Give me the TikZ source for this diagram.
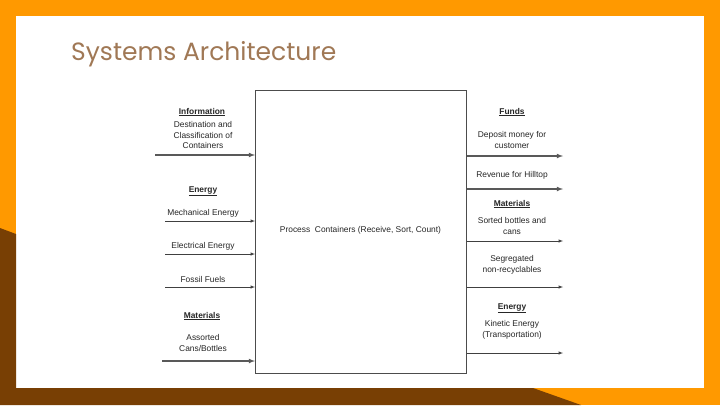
\documentclass[tikz,border=0pt]{standalone}
\usepackage{fontspec}
\setmainfont{Liberation Sans}
\newfontfamily\titlefont{Poppins}
\definecolor{bgorange}{RGB}{255,153,0}
\definecolor{bgbrown}{RGB}{120,63,4}
\definecolor{titlec}{RGB}{160,120,85}
\begin{document}
\begin{tikzpicture}[x=1pt,y=-1pt,
  lbl/.style={font=\fontsize{8.4}{10.5}\selectfont,align=center,text=black!85,inner sep=1pt},
  hd/.style={lbl,font=\fontsize{8.4}{10.5}\selectfont\bfseries},
  arr/.style={-latex,black!75,line width=0.5pt},
  arrb/.style={-latex,black!65,line width=1.1pt}]
\useasboundingbox (0,0) rectangle (720,405);
\fill[bgorange] (0,0) rectangle (720,405);
\fill[white] (16,16) rectangle (704,388);
\fill[bgbrown] (0,228) -- (16,234) -- (16,388) -- (533,388) -- (581,405) -- (0,405) -- cycle;
\node[anchor=west,inner sep=0pt,font=\titlefont\fontsize{25}{28}\selectfont,text=titlec] (title) at (71,54) {Systems Architecture};
\node[draw=black!70,line width=0.6pt,minimum width=211pt,minimum height=283pt,anchor=north west,inner sep=0pt] (box) at (255,90) {};
\node[lbl] (pc) at (360.5,230) {Process\ \ Containers (Receive, Sort, Count)};
% left labels
\node[hd] (h1) at (202,112) {\underline{Information}};
\node[lbl] (t1) at (203,135) {Destination and\\Classification of\\Containers};
\node[hd] (h2) at (203,191) {\underline{Energy}};
\node[lbl] (t2) at (203,213) {Mechanical Energy};
\node[lbl] (t3) at (203,246) {Electrical Energy};
\node[lbl] (t4) at (203,279) {Fossil Fuels};
\node[hd] (h3) at (202,316) {\underline{Materials}};
\node[lbl] (t5) at (203,343) {Assorted\\Cans/Bottles};
\coordinate (l1) at (155,155); \coordinate (l2) at (165,221);
\coordinate (l3) at (165,254); \coordinate (l4) at (165,287);
\coordinate (l5) at (162,361);
\draw[arrb] (l1) -- (l1 -| box.west);
\draw[arr] (l2) -- (l2 -| box.west);
\draw[arr] (l3) -- (l3 -| box.west);
\draw[arr] (l4) -- (l4 -| box.west);
\draw[arrb] (l5) -- (l5 -| box.west);
% right labels
\node[hd] (r1) at (512,112) {\underline{Funds}};
\node[lbl] (s1) at (512,140) {Deposit money for\\customer};
\node[lbl] (s2) at (512,175) {Revenue for Hilltop};
\node[hd] (r2) at (512,204) {\underline{Materials}};
\node[lbl] (s3) at (512,226) {Sorted bottles and\\cans};
\node[lbl] (s4) at (512,265) {Segregated\\non-recyclables};
\node[hd] (r3) at (512,308) {\underline{Energy}};
\node[lbl] (s5) at (512,330) {Kinetic Energy\\(Transportation)};
\coordinate (e1) at (563,156); \coordinate (e2) at (563,189);
\coordinate (e3) at (563,241); \coordinate (e4) at (563,287);
\coordinate (e5) at (563,353);
\draw[arrb] (e1 -| box.east) -- (e1);
\draw[arrb] (e2 -| box.east) -- (e2);
\draw[arr] (e3 -| box.east) -- (e3);
\draw[arr] (e4 -| box.east) -- (e4);
\draw[arr] (e5 -| box.east) -- (e5);
\end{tikzpicture}
\end{document}
